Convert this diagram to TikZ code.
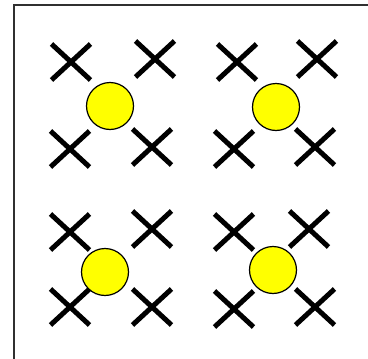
\documentclass[tikz,border=0pt]{standalone}
\usetikzlibrary{shapes.misc}
\definecolor{dotYellow}{HTML}{FFFF00}
\definecolor{frameGrey}{HTML}{303030}

\begin{document}
\begin{tikzpicture}[x=1pt, y=-1pt,
  xmark/.style={cross out, draw, line width=5pt, minimum width=39pt,
                minimum height=36pt, inner sep=0pt, outer sep=0pt},
  dot/.style={circle, draw, fill=dotYellow, line width=1.2pt,
              minimum size=47pt, inner sep=0pt}]
\useasboundingbox (0,0) rectangle (368,359);
% ---- frame (runs off the right and bottom edge)
\draw[frameGrey, line width=1.6pt] (14,5) rectangle (400,400);
% ---- crosses, four per group
\foreach \n/\x/\y in {1a/71/62, 1b/155/59, 1c/70/149, 1d/152/147,
                      2a/237/62, 2b/317/59, 2c/234/149, 2d/315/147,
                      3a/70/232, 3b/152/229, 3c/70/307, 3d/152/307,
                      4a/234/232, 4b/309/229, 4c/234/309, 4d/315/307}
  \node[xmark] (x\n) at (\x,\y) {};
% ---- yellow dots on top
\foreach \n/\x/\y in {1/110/106, 2/276/107, 3/105/272, 4/273/270}
  \node[dot] (dot\n) at (\x,\y) {};
\end{tikzpicture}
\end{document}
